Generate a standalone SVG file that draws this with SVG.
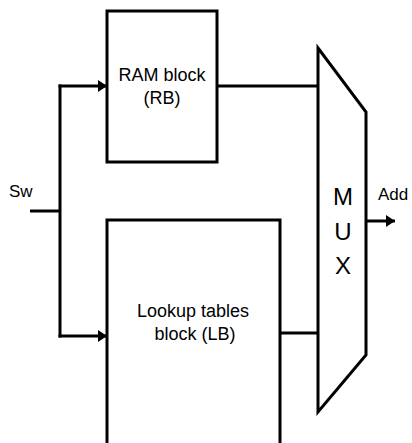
<svg xmlns="http://www.w3.org/2000/svg" width="412" height="443" viewBox="0 0 412 443">
<style>
.box{fill:#fff;stroke:#000;stroke-width:3}
.wire{fill:none;stroke:#000;stroke-width:3}
text{font-family:"Liberation Sans",Arial,sans-serif;fill:#000}
.lbl{font-size:17px}
.blk{font-size:18px;text-anchor:middle}
.mux{font-size:24px;text-anchor:middle}
</style>
<defs>
<marker id="ah" markerWidth="9" markerHeight="12" refX="9" refY="6" orient="auto" markerUnits="userSpaceOnUse">
<path d="M0,0 L9,6 L0,12 Z" fill="#000"/>
</marker>
</defs>
<rect width="412" height="443" fill="#fff"/>
<g id="connectors">
<path class="wire" d="M30,211 H60"/>
<path class="wire" d="M60,84.5 V337.5"/>
<path class="wire" d="M58.5,86 H107" marker-end="url(#ah)"/>
<path class="wire" d="M58.5,336 H107" marker-end="url(#ah)"/>
<path class="wire" d="M217,86 H318"/>
<path class="wire" d="M280,333 H318"/>
<path class="wire" d="M366,221 H395" marker-end="url(#ah)"/>
</g>
<g id="sw"><text class="lbl" x="9" y="197">Sw</text></g>
<g id="ram">
<rect class="box" x="107" y="11" width="110" height="151"/>
<text class="blk" x="162" y="81">RAM block</text>
<text class="blk" x="162" y="104">(RB)</text>
</g>
<g id="lb">
<path class="box" d="M107,450 V220 H280 V450"/>
<text class="blk" x="193" y="317">Lookup tables</text>
<text class="blk" x="195" y="340">block (LB)</text>
</g>
<g id="mux">
<polygon class="box" points="318,48 366,112 366,355 318,412"/>
<text class="mux" x="343" y="205">M</text>
<text class="mux" x="343" y="239.5">U</text>
<text class="mux" x="343" y="274">X</text>
</g>
<g id="add"><text class="lbl" x="378" y="200">Add</text></g>
</svg>
